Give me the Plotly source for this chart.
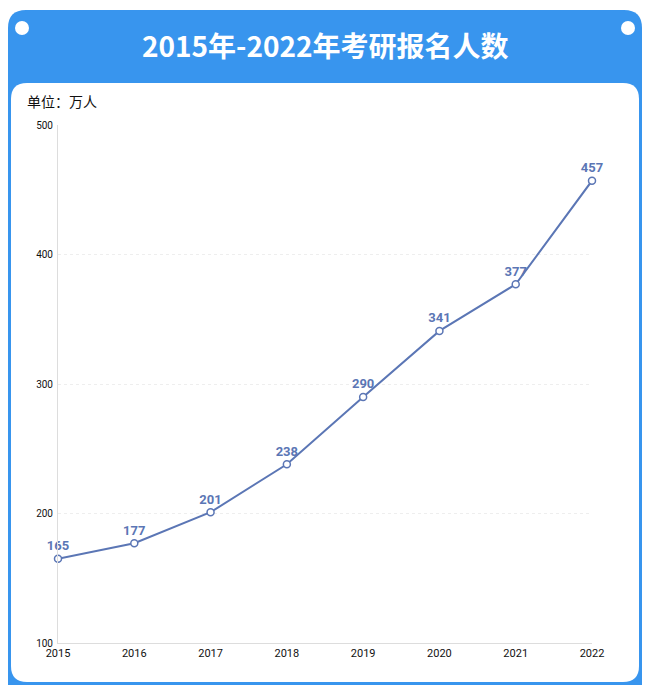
import plotly.graph_objects as go

years = ["2015", "2016", "2017", "2018", "2019", "2020", "2021", "2022"]
applicants = [165, 177, 201, 238, 290, 341, 377, 457]
y_ticks = [100, 200, 300, 400, 500]

O = 8  # page body margin
W, H = 650 - 2 * O, 693 - 2 * O
L, R, T, B = 58, 592, 125, 643
def px(x): return (x - L) / (R - L)
def py(y): return (B - y) / (B - T)

def rrect(x0, y0, x1, y1, r):
    pts = [
        f"M {px(x0+r)} {py(y0)}", f"L {px(x1-r)} {py(y0)}",
        f"Q {px(x1)} {py(y0)} {px(x1)} {py(y0+r)}", f"L {px(x1)} {py(y1-r)}",
        f"Q {px(x1)} {py(y1)} {px(x1-r)} {py(y1)}", f"L {px(x0+r)} {py(y1)}",
        f"Q {px(x0)} {py(y1)} {px(x0)} {py(y1-r)}", f"L {px(x0)} {py(y0+r)}",
        f"Q {px(x0)} {py(y0)} {px(x0+r)} {py(y0)}", "Z"]
    return " ".join(pts)

blue = "#3895ee"
line_c = "#5b76b5"

fig = go.Figure(go.Scatter(
    x=years, y=applicants, mode="lines+markers+text",
    text=["<b>%d</b>" % v for v in applicants], textposition="top center",
    textfont=dict(color=line_c, size=13, family="Roboto"),
    line=dict(color=line_c, width=2),
    marker=dict(size=7, color="white", line=dict(color=line_c, width=1.5)),
    cliponaxis=False, hoverinfo="skip"))

shapes = [
    dict(type="path", path=rrect(8, 10, 642, 720, 18), xref="paper", yref="paper",
         fillcolor=blue, line=dict(width=0), layer="below"),
    dict(type="path", path=rrect(11, 83, 639, 682, 16), xref="paper", yref="paper",
         fillcolor="white", line=dict(width=0), layer="below"),
]
for cx in (22, 628):
    shapes.append(dict(type="circle", xref="paper", yref="paper",
                       x0=px(cx-7), x1=px(cx+7), y0=py(21), y1=py(35),
                       fillcolor="white", line=dict(width=0)))

fig.update_layout(
    width=W, height=H, paper_bgcolor="white", plot_bgcolor="rgba(0,0,0,0)",
    margin=dict(l=L - O, r=650 - O - R, t=T - O, b=693 - O - B, pad=0),
    showlegend=False, shapes=shapes,
    font=dict(family="Noto Sans CJK SC", color="#111"),
    xaxis=dict(type="category", range=[0, 7], showgrid=False, showline=True,
               linecolor="#ddd", ticks="", tickfont=dict(size=11, family="Roboto"),
               fixedrange=True),
    yaxis=dict(range=[100, 500], tickvals=y_ticks, showline=True, linecolor="#ddd",
               gridcolor="#eee", griddash="dot", zeroline=False, ticks="",
               tickfont=dict(size=10, family="Roboto"), ticklabelstandoff=2),
    annotations=[
        dict(text="<b>2015年-2022年考研报名人数</b>", xref="paper", yref="paper",
             x=px(325), y=py(45), showarrow=False, yanchor="middle",
             font=dict(size=28, color="white", family="Noto Sans CJK SC")),
        dict(text="单位：万人", xref="paper", yref="paper", x=px(25), y=py(101),
             xanchor="left", yanchor="middle", showarrow=False,
             font=dict(size=14, color="#111")),
    ])

fig.write_html("out.html")
